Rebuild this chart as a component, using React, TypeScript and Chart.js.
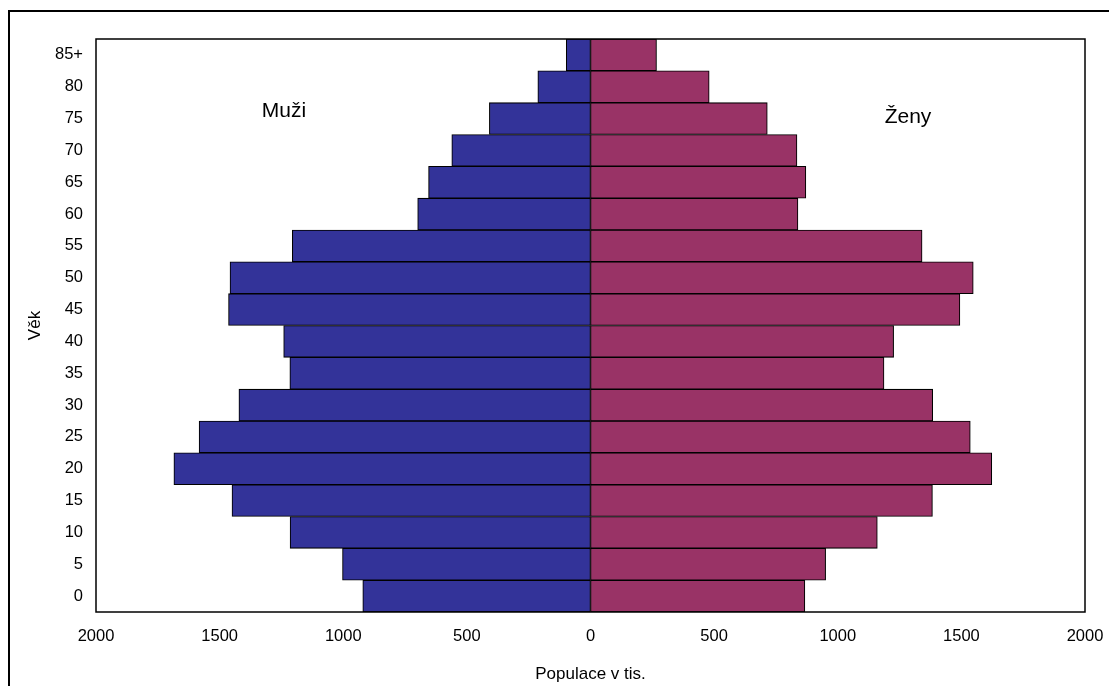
import React, { useEffect, useRef } from "react";
import { Chart, registerables } from "chart.js";

Chart.register(...registerables);

const ageGroups = ["0", "5", "10", "15", "20", "25", "30", "35", "40", "45", "50", "55", "60", "65", "70", "75", "80", "85+"];
const menValues = [921, 1003, 1215, 1450, 1685, 1583, 1422, 1216, 1241, 1464, 1458, 1206, 699, 655, 561, 409, 213, 98];
const womenValues = [867, 951, 1160, 1383, 1623, 1536, 1384, 1187, 1226, 1494, 1548, 1341, 839, 871, 835, 715, 480, 267];
const xMin = -2000;
const xMax = 2000;
const xStep = 500;
const menLabel = "Muži";
const womenLabel = "Ženy";
const yTitle = "Věk";
const xTitle = "Populace v tis.";

const FONT = "'Liberation Sans', Arial, sans-serif";

const framePlugin = {
  id: "frame",
  afterDatasetsDraw(chart: any) {
    const { ctx, chartArea } = chart;
    ctx.save();
    ctx.strokeStyle = "#000";
    ctx.lineWidth = 1.5;
    ctx.strokeRect(chartArea.left, chartArea.top, chartArea.right - chartArea.left, chartArea.bottom - chartArea.top);
    ctx.restore();
  },
  afterDraw(chart: any) {
    const { ctx } = chart;
    ctx.save();
    ctx.fillStyle = "#000";
    ctx.font = `21px ${FONT}`;
    ctx.textAlign = "center";
    ctx.textBaseline = "alphabetic";
    ctx.fillText(menLabel, 284, 117);
    ctx.fillText(womenLabel, 908, 123);
    ctx.restore();
  },
};

export default function App() {
  const canvasRef = useRef<HTMLCanvasElement | null>(null);

  useEffect(() => {
    if (!canvasRef.current) return;
    const chart = new Chart(canvasRef.current, {
      type: "bar",
      data: {
        labels: ageGroups,
        datasets: [
          {
            label: menLabel,
            data: menValues.map((v) => -v),
            backgroundColor: "#333399",
            borderColor: "#000",
            borderWidth: 1.1,
            borderSkipped: false,
            barPercentage: 1,
            categoryPercentage: 1,
          },
          {
            label: womenLabel,
            data: womenValues,
            backgroundColor: "#993366",
            borderColor: "#000",
            borderWidth: 1.1,
            borderSkipped: false,
            barPercentage: 1,
            categoryPercentage: 1,
          },
        ],
      },
      options: {
        indexAxis: "y",
        responsive: false,
        animation: false,
        devicePixelRatio: 1,
        layout: { padding: { top: 39, right: 24, left: 0, bottom: 0 } },
        plugins: {
          legend: { display: false },
          tooltip: { enabled: false },
        },
        scales: {
          x: {
            type: "linear",
            stacked: true,
            min: xMin,
            max: xMax,
            grid: { display: false, drawTicks: false },
            border: { display: false },
            ticks: {
              stepSize: xStep,
              padding: 14.5,
              color: "#000",
              font: { family: FONT, size: 16.5 },
              callback: (v: any) => String(Math.abs(Number(v))),
            },
            title: {
              display: true,
              text: xTitle,
              color: "#000",
              font: { family: FONT, size: 17 },
              padding: { top: 0, bottom: 1 },
            },
            afterFit: (scale: any) => {
              scale.height = 74;
              scale.paddingLeft = 0;
              scale.paddingRight = 0;
            },
          },
          y: {
            type: "category",
            stacked: true,
            reverse: true,
            grid: { display: false, drawTicks: false },
            border: { display: false },
            ticks: {
              padding: 13,
              color: "#000",
              font: { family: FONT, size: 16.5 },
            },
            title: {
              display: true,
              text: yTitle,
              color: "#000",
              font: { family: FONT, size: 17 },
              padding: { top: 25, bottom: 0 },
            },
            afterFit: (scale: any) => {
              scale.width = 96;
              scale.paddingTop = 0;
              scale.paddingBottom = 0;
            },
          },
        },
      } as any,
      plugins: [framePlugin],
    });
    return () => chart.destroy();
  }, []);

  return (
    <div style={{ position: "fixed", left: 0, top: 0, width: 1109, height: 686, overflow: "hidden", background: "#fff" }}>
      <div
        style={{
          position: "absolute",
          left: 8,
          top: 10,
          width: 1200,
          height: 800,
          border: "2px solid #000",
          boxSizing: "border-box",
        }}
      />
      <canvas
        ref={canvasRef}
        width={1109}
        height={686}
        style={{ position: "absolute", left: 0, top: 0, width: 1109, height: 686 }}
      />
    </div>
  );
}
